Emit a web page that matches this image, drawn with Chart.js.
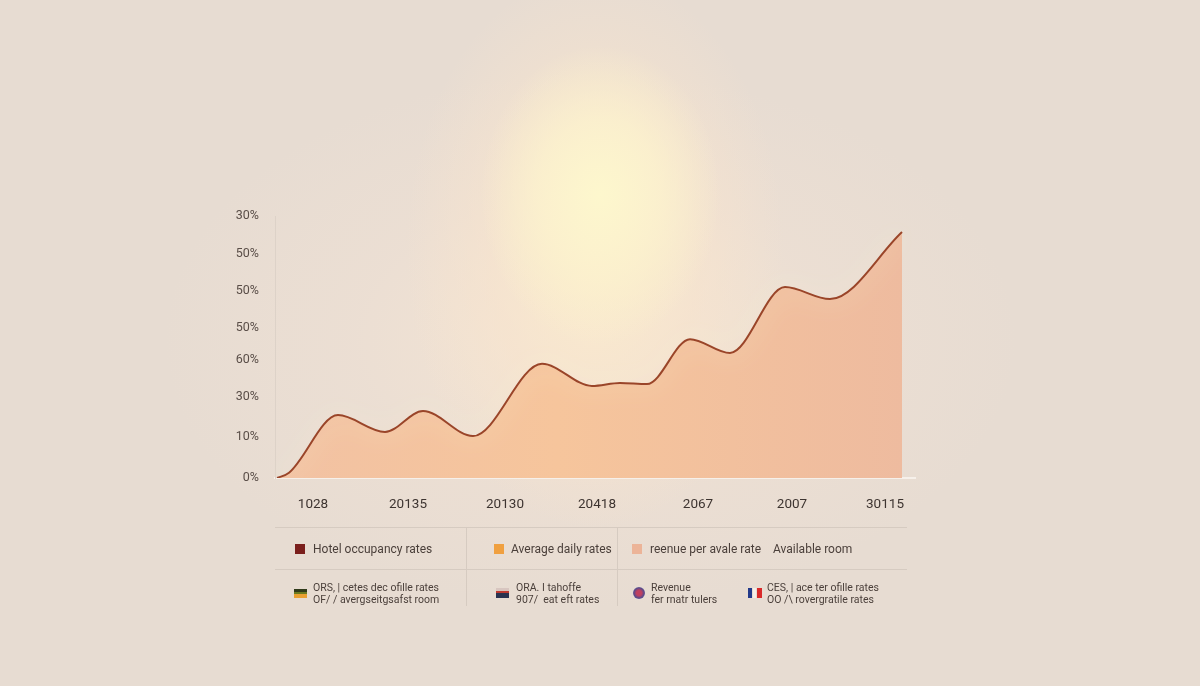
<!DOCTYPE html>
<html>
<head>
<meta charset="utf-8">
<script src="https://cdn.jsdelivr.net/npm/chart.js@4/dist/chart.umd.min.js"></script>
<style>
  html, body { margin: 0; padding: 0; }
  body {
    width: 1200px; height: 686px; overflow: hidden; position: relative;
    font-family: Roboto, "Liberation Sans", sans-serif;
    background-color: #e7dcd2;
    background-image:
      radial-gradient(ellipse 120px 150px at 600px 195px, rgba(253,247,205,1) 0%, rgba(252,242,205,0.8) 50%, rgba(250,235,205,0) 100%),
      radial-gradient(ellipse 190px 280px at 595px 250px, rgba(251,236,205,0.95) 0%, rgba(248,228,205,0.6) 55%, rgba(240,220,205,0) 100%),
      radial-gradient(ellipse 430px 270px at 590px 340px, rgba(246,230,212,0.9) 0%, rgba(240,225,212,0.5) 55%, rgba(231,220,210,0) 100%);
  }
  #wrap { position: absolute; left: 0; top: 0; width: 1200px; height: 686px; }
  .hline { position: absolute; height: 1px; background: #d6cbc1; left: 275px; width: 632px; }
  .vline { position: absolute; width: 1px; background: #d6cbc1; top: 528px; height: 78px; }
  .item { position: absolute; font-size: 12px; color: #4a3f3a; white-space: nowrap; }
  .sq { position: absolute; width: 10px; height: 10px; }
  .item2 { position: absolute; font-size: 10.5px; line-height: 12px; color: #4a3f3a; white-space: nowrap; }
  .ic { position: absolute; }
</style>
</head>
<body>
<div id="wrap"><canvas id="chart" width="1200" height="686"></canvas></div>

<div class="hline" style="top:527px"></div>
<div class="hline" style="top:569px"></div>
<div class="vline" style="left:466px"></div>
<div class="vline" style="left:617px"></div>

<div class="sq" style="left:295px;top:544px;background:#7b1f1c"></div>
<div class="item" style="left:313px;top:542px">Hotel occupancy rates</div>
<div class="sq" style="left:494px;top:544px;background:#f0a040"></div>
<div class="item" style="left:511px;top:542px">Average daily rates</div>
<div class="sq" style="left:632px;top:544px;background:#ecb498"></div>
<div class="item" style="left:650px;top:542px">reenue per avale rate</div>
<div class="item" style="left:773px;top:542px">Available room</div>

<div class="ic" style="left:294px;top:589px;width:13px;height:9px;background:linear-gradient(#2f3a1a 0 33%, #6a7a20 33% 60%, #e8a030 60%)"></div>
<div class="item2" style="left:313px;top:582px">ORS, | cetes dec ofille rates<br>OF/ / avergseitgsafst room</div>
<div class="ic" style="left:496px;top:588px;width:13px;height:10px;background:linear-gradient(#d8c6c0 0 30%, #c03a30 30% 55%, #2a3350 55%)"></div>
<div class="item2" style="left:516px;top:582px">ORA. I tahoffe<br>907/ &nbsp;eat eft rates</div>
<div class="ic" style="left:633px;top:587px;width:12px;height:12px;border-radius:50%;background:radial-gradient(circle, #c04060 0 30%, #5a4a8a 60%, #8a90b8)"></div>
<div class="item2" style="left:651px;top:582px">Revenue<br>fer rnatr tulers</div>
<div class="ic" style="left:748px;top:588px;width:4px;height:10px;background:#233a8a"></div>
<div class="ic" style="left:753px;top:588px;width:3px;height:10px;background:#f4efe8"></div>
<div class="ic" style="left:757px;top:588px;width:5px;height:10px;background:#d92a2a"></div>
<div class="item2" style="left:767px;top:582px">CES, | ace ter ofille rates<br>OO /\ rovergratile rates</div>

<script>
// valores (x em unidades de posição, y em unidades da escala)
const xValues = [0.2, 1.4, 6.3, 11.0, 14.8, 19.8, 26.7, 31.7, 34.5, 37.2, 41.5, 45.5, 51.0, 55.5, 62.7];
const yValues = [0, 1.4, 16.8, 12.3, 17.9, 11.2, 30.5, 24.6, 25.4, 25.1, 37.1, 33.4, 51.0, 47.8, 65.7];

// rótulos dos eixos como aparecem no gráfico
const xTickValues = [3.8, 13.3, 23.0, 32.2, 42.3, 51.7, 61.0];
const xTickLabels = ['1028', '20135', '20130', '20418', '2067', '2007', '30115'];
const yTickValues = [0, 11, 21.6, 31.5, 40, 50, 60, 70];
const yTickLabels = ['0%', '10%', '30%', '60%', '50%', '50%', '50%', '30%'];

const points = xValues.map((x, i) => ({ x: x, y: yValues[i] }));

// brilho suave em volta da área
const glowPlugin = {
    id: 'glow',
    beforeDatasetDraw(chart) {
        const ctx = chart.ctx;
        ctx.save();
        ctx.shadowColor = 'rgba(255, 240, 212, 1)';
        ctx.shadowBlur = 26;
    },
    afterDatasetDraw(chart) {
        chart.ctx.restore();
    }
};

function criarGrafico() {
    const ctx = document.getElementById('chart').getContext('2d');

    const fillGradient = ctx.createLinearGradient(275, 0, 905, 0);
    fillGradient.addColorStop(0, '#f2c2a3');
    fillGradient.addColorStop(0.45, '#f6c59c');
    fillGradient.addColorStop(1, '#eebb9f');

    new Chart(ctx, {
        type: 'line',
        data: {
            datasets: [{
                data: points,
                borderColor: '#9a4529',
                borderWidth: 2,
                backgroundColor: fillGradient,
                fill: 'origin',
                cubicInterpolationMode: 'monotone',
                pointRadius: 0
            }]
        },
        plugins: [glowPlugin],
        options: {
            responsive: false,
            animation: false,
            layout: { padding: { left: 225, right: 285, top: 216, bottom: 168 } },
            plugins: { legend: { display: false }, tooltip: { enabled: false } },
            scales: {
                x: {
                    type: 'linear', min: 0, max: 64,
                    afterBuildTicks: s => { s.ticks = xTickValues.map(v => ({ value: v })); },
                    afterFit: s => { s.height = 40; },
                    grid: { display: false, drawTicks: false },
                    border: { display: true, color: '#f6f0ea', width: 2 },
                    ticks: {
                        autoSkip: false, maxRotation: 0, padding: 19,
                        color: '#3d3430', font: { family: 'Roboto', size: 13.5 },
                        callback: (v, i) => xTickLabels[i]
                    }
                },
                y: {
                    min: 0, max: 70,
                    afterBuildTicks: s => { s.ticks = yTickValues.map(v => ({ value: v })); },
                    afterFit: s => { s.width = 50; },
                    grid: { display: false, drawTicks: false },
                    border: { display: true, color: '#ddd2c8', width: 1 },
                    ticks: {
                        autoSkip: false, padding: 16,
                        color: '#5a4e48', font: { family: 'Roboto', size: 12.5 },
                        callback: (v, i) => yTickLabels[i]
                    }
                }
            }
        }
    });
}

window.onload = criarGrafico;
</script>
</body>
</html>
